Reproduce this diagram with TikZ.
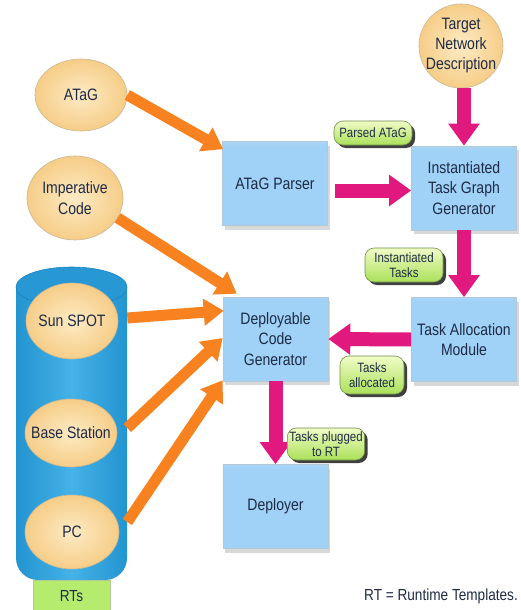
\documentclass[tikz,border=0pt]{standalone}
\usepackage{fontspec}
\setmainfont{Liberation Sans}[FakeStretch=0.85]
\usetikzlibrary{arrows.meta,shadows,calc,shapes.geometric}
\definecolor{txt}{HTML}{1E2B45}
\definecolor{boxtop}{HTML}{E4F3FD}
\definecolor{boxmid}{HTML}{A0D1F6}
\definecolor{boxlow}{HTML}{D2ECFC}
\definecolor{boxbot}{HTML}{B3DBF7}
\definecolor{boxedge}{HTML}{B3C7D6}
\definecolor{ellin}{HTML}{FDEBC4}
\definecolor{ellout}{HTML}{F6CD88}
\definecolor{elledge}{HTML}{C9B690}
\definecolor{orangec}{HTML}{F7821F}
\definecolor{pinkc}{HTML}{E1187D}
\definecolor{grtop}{HTML}{F0FCC6}
\definecolor{grbot}{HTML}{ABE05A}
\definecolor{gredge}{HTML}{6E8F48}
\definecolor{cyldark}{HTML}{2294D0}
\definecolor{cylmid}{HTML}{45B2E8}
\definecolor{cyltop}{HTML}{2898D4}
\definecolor{cyledge}{HTML}{1A84C0}
\definecolor{rtsgreen}{HTML}{B6EC6E}
\pgfdeclareverticalshading{boxsh}{100bp}{color(0bp)=(boxbot); color(8bp)=(boxlow); color(20bp)=(boxmid); color(72bp)=(boxmid); color(100bp)=(boxtop)}
\begin{document}
\begin{tikzpicture}[x=1pt,y=-1pt,
  box/.style={rectangle, minimum width=105pt, minimum height=84pt, shading=boxsh,
    draw=boxedge, line width=0.6pt, align=center, inner sep=2pt,
    font=\fontsize{16.5}{20.5}\selectfont, text=txt,
    drop shadow={opacity=0.3, fill=gray, shadow xshift=2pt, shadow yshift=-4pt}},
  oval/.style={ellipse, inner xsep=-14pt, inner ysep=-8pt, inner color=ellin, outer color=ellout,
    draw=elledge, line width=0.6pt, align=center, text=txt,
    font=\fontsize{16.5}{20.5}\selectfont},
  tag/.style={rectangle, rounded corners=9pt, top color=grtop, bottom color=grbot,
    draw=gredge, line width=0.6pt, align=center, inner sep=2pt, text=txt,
    font=\fontsize{13.5}{15.5}\selectfont,
    drop shadow={opacity=0.75, fill=black, shadow xshift=3pt, shadow yshift=-3pt}},
  pinkarr/.style={draw=pinkc, line width=14pt, -{Triangle[width=30pt,length=22pt]}},
  orangearr/.style={draw=orangec, line width=11pt, -{Triangle[width=26pt,length=20pt]}}
]
\useasboundingbox (0,0) rectangle (521,610);
\fill[white] (0,0) rectangle (521,610);

% cylinder of runtime templates
\shade[left color=cyldark, right color=cyldark, middle color=cylmid]
  (16,287) -- (16,558) arc[start angle=180, end angle=90, radius=22]
  -- (105,580) arc[start angle=90, end angle=0, radius=22] -- (127,287) -- cycle;
\fill[cyltop, draw=cyledge, line width=0.6pt] (71.5,287) ellipse [x radius=55.5, y radius=20];

% boxes
\node[box] (parser) at (275,183.5) {ATaG Parser};
\node[box] (itgg) at (464,188) {Instantiated\\Task Graph\\Generator};
\node[box] (tam) at (464,339.5) {Task Allocation\\Module};
\node[box] (dcg) at (275.5,339) {Deployable\\Code\\Generator};
\node[box] (dep) at (275.5,506.5) {Deployer};

% ellipses
\node[oval, minimum width=92pt, minimum height=72pt] (atag) at (81,95) {ATaG};
\node[oval, minimum width=96pt, minimum height=84pt] (imp) at (75,198) {Imperative\\Code};
\node[oval, minimum width=84pt, minimum height=84pt, font=\fontsize{16.5}{20}\selectfont] (tnd) at (461,46) {Target\\Network\\Description};
\node[oval, minimum width=92pt, minimum height=76pt] (sun) at (72,321) {Sun SPOT};
\node[oval, minimum width=92pt, minimum height=68pt] (base) at (71,433) {Base Station};
\node[oval, minimum width=94pt, minimum height=74pt] (pc) at (72,532) {PC};

% orange arrows
\draw[orangearr] (atag.east) -- ($(parser.north west)+(1,8)$);
\draw[orangearr] (imp.-25) -- ($(dcg.north west)+(14,-3)$);
\draw[orangearr] ($(sun.east)+(9,-3)$) -- ($(dcg.north west)+(1,14)$);
\draw[orangearr] ($(base.east)+(10,-5)$) -- ($(dcg.west)+(0,-1)$);
\draw[orangearr] ($(pc.east)+(8,-10)$) -- ($(dcg.south west)+(0,-1)$);

% pink arrows
\draw[pinkarr] ($(parser.east)+(7,7)$) -- ($(itgg.west)+(0,2.5)$);
\draw[pinkarr] (tnd.south -| itgg.north) -- (itgg.north);
\draw[pinkarr] (itgg.south) -- (tam.north);
\draw[pinkarr] (tam.west) -- (dcg.east);
\draw[pinkarr] (dcg.south) -- (dep.north);

% labels
\node[tag, minimum width=78pt, minimum height=24pt] (parsed) at (373,133) {Parsed ATaG};
\node[tag, minimum width=78pt, minimum height=34pt] (insttasks) at (404,265) {Instantiated\\Tasks};
\node[tag, minimum width=64pt, minimum height=38pt] (alloc) at (372,375) {Tasks\\allocated};
\node[tag, minimum width=76pt, minimum height=32pt] (plugged) at (326,444) {Tasks plugged\\to RT};

% RTs tag and legend
\node[rectangle, fill=rtsgreen, draw=rtsgreen!70!black!60, line width=0.5pt,
  minimum width=77pt, minimum height=31pt, text=txt,
  font=\fontsize{16}{19}\selectfont] (rts) at (71.5,596) {RTs};
\node[text=txt, font=\fontsize{16}{19}\selectfont] (legend) at (441,596) {RT = Runtime Templates.};
\end{tikzpicture}
\end{document}
